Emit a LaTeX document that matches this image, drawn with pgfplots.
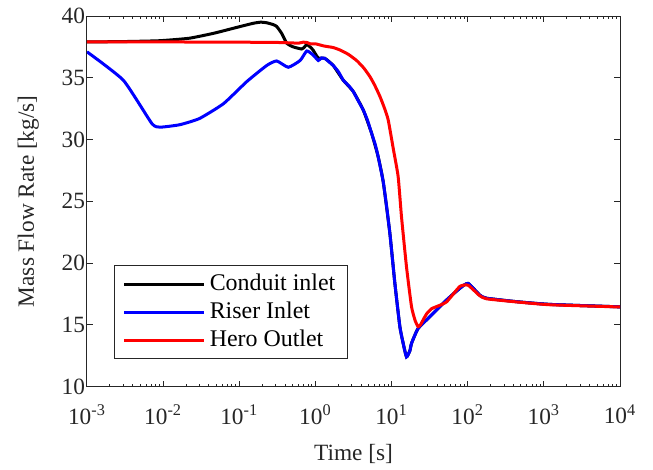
\documentclass[border=0pt]{standalone}
\usepackage{fontspec}
\setmainfont{Liberation Serif}
\usepackage{pgfplots}
\pgfplotsset{compat=1.18}
\definecolor{axgray}{rgb}{0.15,0.15,0.15}
\begin{document}
\begin{tikzpicture}
\begin{axis}[
  name=ax,
  scale only axis,
  width=266.5bp, height=185.25bp,
  xmode=log,
  xmin=1e-3, xmax=1e4,
  ymin=10, ymax=40,
  xtick={1e-3,1e-2,1e-1,1e0,1e1,1e2,1e3,1e4},
  xticklabels={10\textsuperscript{-3},10\textsuperscript{-2},10\textsuperscript{-1},10\textsuperscript{0},10\textsuperscript{1},10\textsuperscript{2},10\textsuperscript{3},10\textsuperscript{4}},
  ytick={10,15,20,25,30,35,40},
  /pgf/number format/assume math mode=true,
  tick align=inside,
  major tick length=2.8bp,
  minor tick length=1.5bp,
  axis line style={axgray, line width=0.5bp},
  every tick/.style={axgray, line width=0.5bp},
  tick label style={font=\fontsize{11.7}{14}\selectfont, text=axgray},
  xticklabel style={yshift=-5.5bp},
  yticklabel style={xshift=2.5bp},
  label style={font=\fontsize{11.7}{14}\selectfont, text=axgray},
  xlabel={Time [s]},
  ylabel={Mass Flow Rate [kg/s]},
  xlabel style={yshift=-3bp},
  ylabel style={yshift=4.5bp},
  legend cell align=left,
  legend style={at={(0.0512,0.0734)}, anchor=south west, draw=axgray, line width=0.5bp,
    font=\fontsize{12}{14.4}\selectfont, row sep=0.2bp, inner xsep=4bp, inner ysep=2.5bp},
  legend image code/.code={\draw[#1, line width=1.5bp] (0bp,0bp) -- (40bp,0bp);},
  every axis plot/.append style={smooth, tension=0.3},
]
\addplot[black, line width=1.5bp] coordinates {
(0.001,37.9)(0.003,37.93)(0.009,38.0)(0.022,38.2)(0.046,38.6)(0.093,39.08)(0.15,39.4)(0.19,39.5)(0.23,39.45)(0.28,39.3)(0.31,39.15)(0.36,38.6)(0.42,37.8)(0.51,37.5)(0.66,37.33)(0.72,37.5)(0.77,37.7)(0.85,37.5)(0.93,37.25)(1.09,36.6)(1.33,36.57)(1.71,36.0)(2.32,34.8)(3.13,33.9)(4.24,32.4)(5.47,30.5)(6.67,28.6)(7.76,26.6)(9.5,22.4)(11.05,18.35)(12.85,14.85)(14.2,13.5)(15.7,12.4)(17.4,12.9)(18.3,13.5)(22.3,14.7)(31.8,15.65)(52.7,17.0)(78.8,17.95)(101,18.35)(144,17.4)(177,17.15)(437,16.87)(1194,16.65)(8980,16.46)(10000,16.45)
};
\addlegendentry{Conduit inlet}
\addplot[blue, line width=1.5bp] coordinates {
(0.001,37.1)(0.003,34.8)(0.0071,31.3)(0.0091,31.0)(0.0166,31.2)(0.030,31.7)(0.062,32.9)(0.126,34.7)(0.23,36.0)(0.31,36.36)(0.44,35.85)(0.63,36.4)(0.77,37.17)(0.93,36.85)(1.09,36.4)(1.2,36.6)(1.33,36.57)(1.5,36.3)(1.71,36.0)(2.0,35.5)(2.32,34.8)(2.7,34.4)(3.13,33.9)(3.6,33.2)(4.24,32.4)(4.8,31.6)(5.47,30.5)(6.1,29.6)(6.67,28.6)(7.76,26.6)(8.6,24.6)(9.5,22.4)(11.05,18.35)(12.85,14.85)(14.2,13.5)(15.7,12.4)(17.4,12.9)(18.3,13.5)(22.3,14.7)(31.8,15.65)(52.7,17.0)(78.8,17.95)(101,18.35)(144,17.4)(177,17.15)(437,16.87)(1194,16.65)(8980,16.46)(10000,16.45)
};
\addlegendentry{Riser Inlet}
\addplot[red, line width=1.5bp] coordinates {
(0.001,37.9)(0.01,37.9)(0.1,37.88)(0.3,37.86)(0.5,37.82)(0.6,37.8)(0.69,37.88)(0.78,37.85)(0.85,37.75)(1.0,37.75)(1.3,37.57)(1.7,37.45)(2.1,37.25)(2.7,36.9)(3.47,36.4)(4.3,35.8)(5.19,35.1)(6.0,34.4)(7.02,33.5)(8.0,32.6)(9.02,31.6)(10.5,29.3)(12.2,27.0)(13.5,23.75)(15.7,19.7)(18.3,16.45)(20.5,15.3)(22.3,14.85)(24,15.0)(26,15.4)(29,15.9)(33.5,16.3)(40,16.5)(52.7,16.85)(78.8,18.1)(101,18.2)(144,17.35)(177,17.1)(437,16.85)(1194,16.62)(8980,16.45)(10000,16.45)
};
\addlegendentry{Hero Outlet}
\end{axis}
\path ([shift={(-43.5bp,-41.25bp)}]ax.south west) rectangle ([shift={(16.5bp,8bp)}]ax.north east);
\end{tikzpicture}
\end{document}
